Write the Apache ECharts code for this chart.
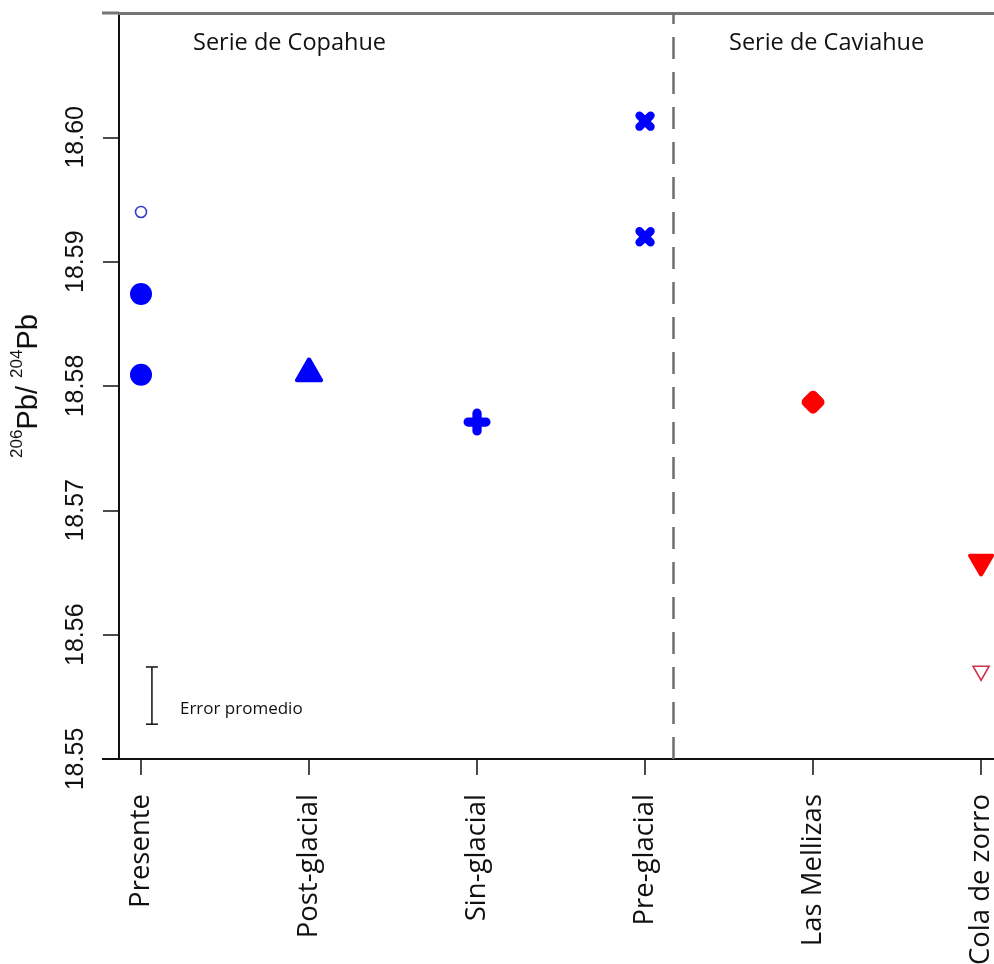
<!DOCTYPE html>
<html>
<head>
<meta charset="utf-8">
<script src="https://cdn.jsdelivr.net/npm/echarts@6/dist/echarts.min.js"></script>
<style>
  html, body { margin: 0; padding: 0; background: #ffffff; }
  #chart { width: 994px; height: 964px; }
</style>
</head>
<body>
<div id="chart"></div>
<script>
// Eruptive units along the x axis (positions 1..6)
const categories = ['Presente', 'Post-glacial', 'Sin-glacial', 'Pre-glacial', 'Las Mellizas', 'Cola de zorro'];
const categoryPos = [1, 2, 3, 4, 5, 6];
const yTicks = [18.55, 18.56, 18.57, 18.58, 18.59, 18.60];

// 206Pb/204Pb measurements, [position, ratio]
const presenteOpen = [[1, 18.5940]];
const presenteFilled = [[1, 18.5874], [1, 18.5809]];
const postGlacial = [[2, 18.5813]];
const sinGlacial = [[3, 18.5771]];
const preGlacial = [[4, 18.6013], [4, 18.5920]];
const lasMellizas = [[5, 18.5787]];
const colaFilled = [[6, 18.5656]];
const colaOpen = [[6, 18.5569]];

// Boundary between the Copahue and Caviahue series
const seriesDivider = 4.173;
// Mean analytical error: [position, low, high]
const errorBar = [[1.065, 18.5528, 18.5574]];

const BLUE = '#0000ff';
const RED = '#ff0000';
const INK = '#111111';

// Plus with rounded arm ends (rotated 45deg it becomes an x)
const PLUS = 'path://M0.29,0.1 A0.21,0.21 0 0 1 0.71,0.1 L0.71,0.29 L0.9,0.29 A0.21,0.21 0 0 1 0.9,0.71 L0.71,0.71 L0.71,0.9 A0.21,0.21 0 0 1 0.29,0.9 L0.29,0.71 L0.1,0.71 A0.21,0.21 0 0 1 0.1,0.29 L0.29,0.29 Z';

const chart = echarts.init(document.getElementById('chart'), null, { renderer: 'canvas' });

const option = {
  backgroundColor: '#ffffff',
  animation: false,
  grid: { left: 119, top: 13, right: 0, bottom: 205, containLabel: false, outerBoundsMode: 'none' },
  xAxis: [
    {
      type: 'value',
      min: 0.869,
      max: 6.077,
      position: 'bottom',
      splitLine: { show: false },
      axisLine: { show: true, onZero: false, lineStyle: { color: INK, width: 2 } },
      axisTick: { show: true, customValues: categoryPos, length: 16, lineStyle: { color: INK, width: 1.5 } },
      axisLabel: {
        customValues: categoryPos,
        rotate: 90,
        margin: 35,
        fontFamily: 'Open Sans',
        fontSize: 27.5,
        color: INK,
        formatter: v => categories[Math.round(v) - 1] || ''
      }
    },
    {
      type: 'value',
      min: 0.869,
      max: 6.077,
      position: 'top',
      splitLine: { show: false },
      axisLine: { show: true, onZero: false, lineStyle: { color: '#767676', width: 3 } },
      axisTick: { show: false },
      axisLabel: { show: false }
    }
  ],
  yAxis: {
    type: 'value',
    min: 18.55,
    max: 18.61,
    interval: 0.01,
    splitLine: { show: false },
    axisLine: { show: true, onZero: false, lineStyle: { color: INK, width: 2 } },
    axisTick: { show: true, customValues: yTicks, length: 16, lineStyle: { color: INK, width: 1.5 } },
    axisLabel: {
      customValues: yTicks,
      rotate: 90,
      margin: 30,
      fontFamily: 'Liberation Sans',
      fontSize: 25,
      color: INK,
      formatter: v => v.toFixed(2)
    },
    name: '{sup|206}{n|Pb/ }{sup|204}{n|Pb}',
    nameLocation: 'middle',
    nameRotate: 90,
    nameGap: 76,
    nameTextStyle: {
      rich: {
        n: { fontFamily: 'Liberation Sans', fontSize: 29, color: INK, lineHeight: 34, verticalAlign: 'bottom' },
        sup: { fontFamily: 'Liberation Sans', fontSize: 17, color: INK, lineHeight: 34, verticalAlign: 'top', padding: [0, 0, 12, 0] }
      }
    }
  },
  graphic: [
    { type: 'line', shape: { x1: 102, y1: 13, x2: 119, y2: 13 }, style: { stroke: '#767676', lineWidth: 3 } },
    { type: 'line', shape: { x1: 102, y1: 759, x2: 119, y2: 759 }, style: { stroke: INK, lineWidth: 2 } },
    { type: 'text', left: 193, top: 31, style: { text: 'Serie de Copahue', fontFamily: 'Open Sans', fontSize: 23.5, fill: INK } },
    { type: 'text', left: 729, top: 31, style: { text: 'Serie de Caviahue', fontFamily: 'Open Sans', fontSize: 23.5, fill: INK } }
  ],
  series: [
    {
      name: 'Presente (abierto)',
      type: 'scatter',
      data: presenteOpen,
      symbol: 'circle',
      symbolSize: 11,
      itemStyle: { color: 'rgba(0,0,0,0)', borderColor: '#3a3ad0', borderWidth: 1.6, opacity: 1 },
      markLine: {
        silent: true,
        symbol: ['none', 'none'],
        label: { show: false },
        lineStyle: { color: '#6e6e6e', width: 2.5, type: [22, 13] },
        data: [{ xAxis: seriesDivider }]
      }
    },
    {
      name: 'Presente',
      type: 'scatter',
      data: presenteFilled,
      symbol: 'circle',
      symbolSize: 22,
      itemStyle: { color: BLUE, opacity: 1 }
    },
    {
      name: 'Post-glacial',
      type: 'scatter',
      data: postGlacial,
      symbol: 'triangle',
      symbolSize: [24, 21],
      itemStyle: { color: BLUE, borderColor: BLUE, borderWidth: 4, borderJoin: 'round', opacity: 1 }
    },
    {
      name: 'Sin-glacial',
      type: 'scatter',
      data: sinGlacial,
      symbol: PLUS,
      symbolSize: 27,
      itemStyle: { color: BLUE, opacity: 1 }
    },
    {
      name: 'Pre-glacial',
      type: 'scatter',
      data: preGlacial,
      symbol: PLUS,
      symbolSize: 24,
      symbolRotate: 45,
      itemStyle: { color: BLUE, opacity: 1 }
    },
    {
      name: 'Las Mellizas',
      type: 'scatter',
      data: lasMellizas,
      symbol: 'roundRect',
      symbolSize: 19,
      symbolRotate: 45,
      itemStyle: { color: RED, opacity: 1 }
    },
    {
      name: 'Cola de zorro',
      type: 'scatter',
      data: colaFilled,
      symbol: 'triangle',
      symbolSize: [22, 19],
      symbolRotate: 180,
      itemStyle: { color: RED, borderColor: RED, borderWidth: 4, borderJoin: 'round', opacity: 1 }
    },
    {
      name: 'Cola de zorro (abierto)',
      type: 'scatter',
      data: colaOpen,
      symbol: 'triangle',
      symbolSize: [16, 14],
      symbolRotate: 180,
      itemStyle: { color: 'rgba(0,0,0,0)', borderColor: '#d0304a', borderWidth: 1.6, opacity: 1 }
    },
    {
      name: 'Error promedio',
      type: 'custom',
      data: errorBar,
      renderItem: function (params, api) {
        const lo = api.coord([api.value(0), api.value(1)]);
        const hi = api.coord([api.value(0), api.value(2)]);
        const cap = 6;
        const st = { stroke: INK, lineWidth: 1.5 };
        return {
          type: 'group',
          children: [
            { type: 'line', shape: { x1: lo[0], y1: lo[1], x2: hi[0], y2: hi[1] }, style: st },
            { type: 'line', shape: { x1: lo[0] - cap, y1: lo[1], x2: lo[0] + cap, y2: lo[1] }, style: st },
            { type: 'line', shape: { x1: hi[0] - cap, y1: hi[1], x2: hi[0] + cap, y2: hi[1] }, style: st },
            {
              type: 'text',
              x: lo[0] + 28,
              y: (lo[1] + hi[1]) / 2 + 14,
              style: { text: 'Error promedio', fontFamily: 'Open Sans', fontSize: 17, fill: INK, verticalAlign: 'middle' }
            }
          ]
        };
      }
    }
  ]
};

chart.setOption(option);
</script>
</body>
</html>
